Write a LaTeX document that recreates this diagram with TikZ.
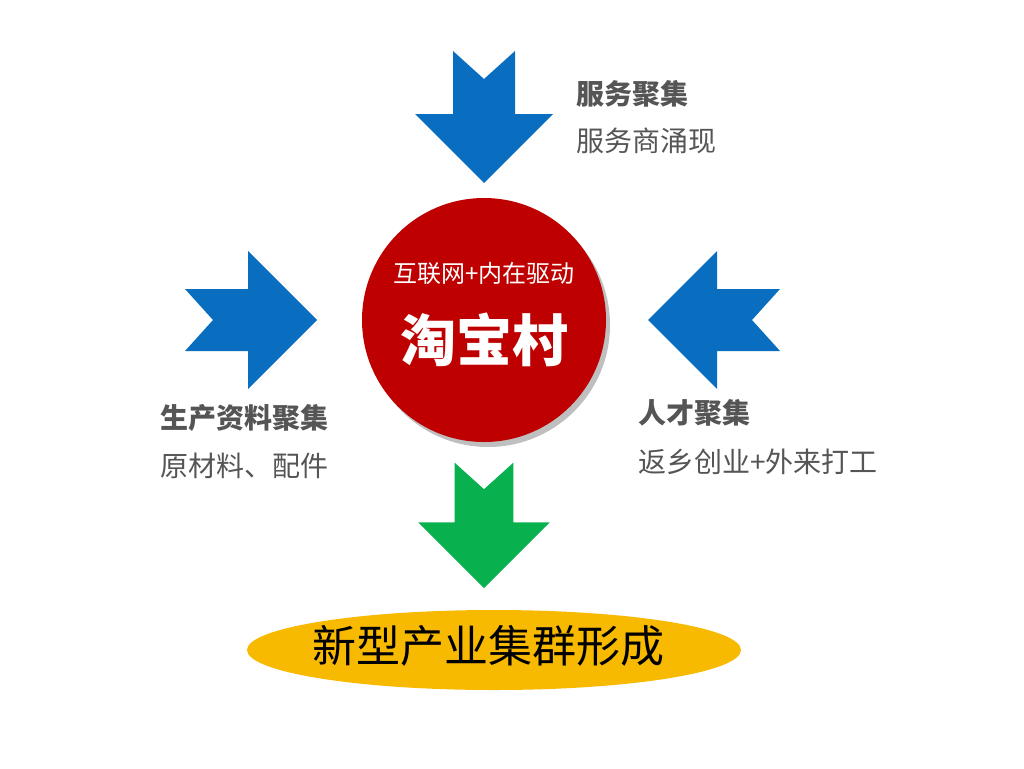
\documentclass[tikz,border=0pt]{standalone}
\usepackage{fontspec}
\usetikzlibrary{shapes.geometric}
\newfontfamily\cjk{Noto Sans CJK SC}
\definecolor{arrowblue}{HTML}{0A6EC0}
\definecolor{arrowgreen}{HTML}{08B04E}
\definecolor{hubred}{HTML}{BE0000}
\definecolor{baseyellow}{HTML}{F7BA00}
\definecolor{labelgray}{HTML}{555555}
\tikzset{
  pics/chevron/.style={code={
    \fill[#1] (0,0) -- (69,-69) -- (31,-69) -- (31,-132) -- (0,-104)
      -- (-31,-132) -- (-31,-69) -- (-69,-69) -- cycle;}},
  title/.style={font=\cjk\bfseries\fontsize{28}{32}\selectfont,text=labelgray,anchor=west,inner sep=0pt},
  sub/.style={font=\cjk\fontsize{28}{32}\selectfont,text=labelgray,anchor=west,inner sep=0pt}
}
\begin{document}
\begin{tikzpicture}[x=1pt,y=-1pt]
		\useasboundingbox (0,0) rectangle (1024,768);
		
		\pic at (484,183) {chevron=arrowblue};
		\pic[rotate=90] at (317,320) {chevron=arrowblue};
		\pic[rotate=-90] at (648,320) {chevron=arrowblue};
		\pic[scale=0.95] at (484,588) {chevron=arrowgreen};
		
		\fill[black!25] (488,325) circle (122);
		\node(hub) at (484,320)[circle,fill=hubred,minimum size=244,inner sep=0pt]{};
		\node(drive) at (484,273)[font=\cjk\fontsize{24}{28}\selectfont,text=white]{互联网+内在驱动};
		\node(village) at (484,340)[font=\cjk\bfseries\fontsize{56}{62}\selectfont,text=white]{淘宝村};
		
		\node(base) at (494,650)[ellipse,fill=baseyellow,minimum width=494,minimum height=80,inner sep=0pt]{};
		\node(cluster) at (488,646)[font=\cjk\fontsize{44}{50}\selectfont]{新型产业集群形成};
		
		\node(t1) at (576,94)[title]{服务聚集};
		\node(s1) at (576,141)[sub]{服务商涌现};
		\node(t2) at (160,418)[title]{生产资料聚集};
		\node(s2) at (160,466)[sub]{原材料、配件};
		\node(t3) at (638,413)[title]{人才聚集};
		\node(s3) at (638,462)[sub]{返乡创业+外来打工};
		
	\end{tikzpicture}
\end{document}
